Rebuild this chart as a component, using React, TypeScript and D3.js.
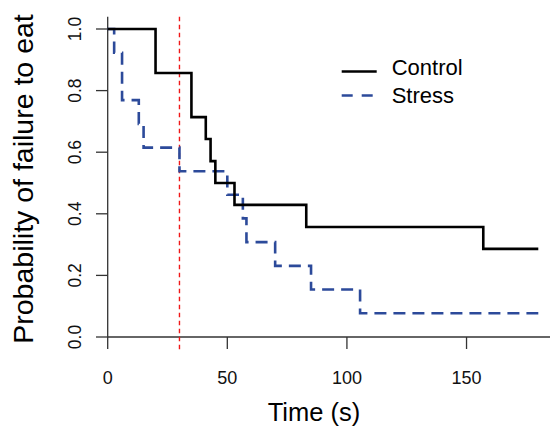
import React from "react";
import * as d3 from "d3";

const controlTimes = [0, 20, 35, 41, 43, 45, 53, 83, 157, 180];
const controlSurv = [1, 0.857, 0.714, 0.643, 0.571, 0.5, 0.429, 0.357, 0.286, 0.286];
const stressTimes = [0, 2.7, 6, 13, 15, 30, 50, 56.5, 58, 70, 85, 105.5, 180];
const stressSurv = [1, 0.923, 0.769, 0.692, 0.615, 0.538, 0.462, 0.385, 0.308, 0.231, 0.154, 0.077, 0.077];
const xTicks = [0, 50, 100, 150];
const yTicks = [0, 0.2, 0.4, 0.6, 0.8, 1.0];
const cutoffTime = [30];
const legendLabels = ["Control", "Stress"];

const W = 550;
const H = 426;
const FONT = "'Liberation Sans', Arial, Helvetica, sans-serif";

export default function App() {
  const x = d3.scaleLinear().domain([0, 180]).range([107.7, 538.3]);
  const y = d3.scaleLinear().domain([0, 1]).range([337, 29]);
  const line = d3
    .line<[number, number]>()
    .x((d) => x(d[0]))
    .y((d) => y(d[1]))
    .curve(d3.curveStepAfter);

  const controlPts = controlTimes.map((t, i) => [t, controlSurv[i]] as [number, number]);
  const stressPts = stressTimes.map((t, i) => [t, stressSurv[i]] as [number, number]);

  const blue = "#2C4A9A";

  return (
    <svg
      width={W}
      height={H}
      style={{ position: "absolute", left: 0, top: 0, background: "#fff" }}
    >
      <rect x={0} y={0} width={W} height={H} fill="#fff" />
      {/* axis lines */}
      <line x1={x(0)} x2={W} y1={y(0)} y2={y(0)} stroke="#333" strokeWidth={1.3} />
      <line x1={x(0)} x2={x(0)} y1={y(1.04)} y2={y(0)} stroke="#333" strokeWidth={1.3} />
      {/* x ticks */}
      {xTicks.map((t) => (
        <g key={"xt" + t}>
          <line x1={x(t)} x2={x(t)} y1={y(0)} y2={y(0) + 12} stroke="#333" strokeWidth={1.3} />
          <text
            x={x(t)}
            y={384}
            textAnchor="middle"
            fontFamily={FONT}
            fontSize={18}
            fill="#111"
          >
            {t}
          </text>
        </g>
      ))}
      {/* y ticks */}
      {yTicks.map((t) => (
        <g key={"yt" + t}>
          <line x1={x(0) - 11.7} x2={x(0)} y1={y(t)} y2={y(t)} stroke="#333" strokeWidth={1.3} />
          <text
            transform={`translate(80.5,${y(t)}) rotate(-90)`}
            textAnchor="middle"
            fontFamily={FONT}
            fontSize={17.5}
            fill="#111"
          >
            {t.toFixed(1)}
          </text>
        </g>
      ))}
      {/* cutoff line */}
      {cutoffTime.map((c) => (
        <line
          key={"c" + c}
          x1={x(c)}
          x2={x(c)}
          y1={y(1.04)}
          y2={y(-0.04)}
          stroke="#F01818"
          strokeWidth={1.4}
          strokeDasharray="4.5,3.5"
        />
      ))}
      {/* survival curves */}
      <path d={line(stressPts) || ""} fill="none" stroke={blue} strokeWidth={2.6} strokeDasharray="12,7" />
      <path d={line(controlPts) || ""} fill="none" stroke="#000" strokeWidth={2.6} />
      {/* legend */}
      <line x1={341.7} x2={376.7} y1={71.5} y2={71.5} stroke="#000" strokeWidth={2.6} />
      <line x1={341.7} x2={376.7} y1={95.5} y2={95.5} stroke={blue} strokeWidth={2.6} strokeDasharray="11,9" />
      <text x={391.7} y={74.5} fontFamily={FONT} fontSize={22} fill="#000">
        {legendLabels[0]}
      </text>
      <text x={391.7} y={103} fontFamily={FONT} fontSize={22} fill="#000">
        {legendLabels[1]}
      </text>
      {/* axis titles */}
      <text x={314} y={421} textAnchor="middle" fontFamily={FONT} fontSize={25.5} fill="#000">
        Time (s)
      </text>
      <text
        transform={`translate(33,179) rotate(-90)`}
        textAnchor="middle"
        fontFamily={FONT}
        fontSize={28.5}
        fill="#000"
      >
        Probability of failure to eat
      </text>
    </svg>
  );
}
